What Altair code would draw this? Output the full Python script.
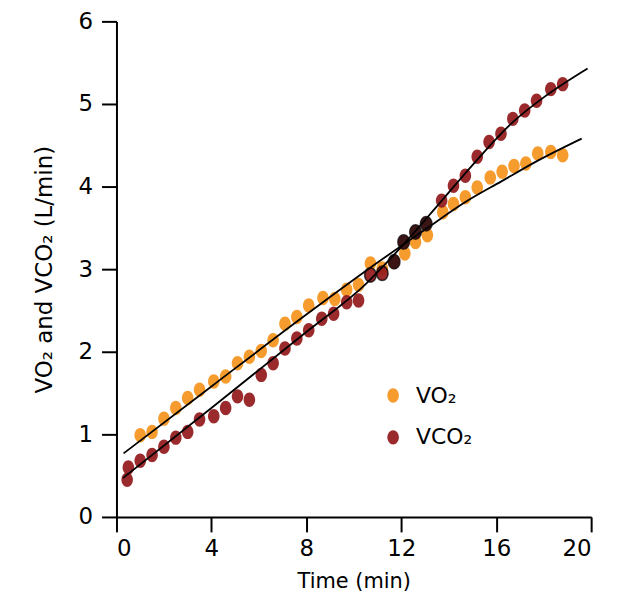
import altair as alt
import pandas as pd

# ---- data ----
series_names = ["VO₂", "VCO₂"]

vo2_time = [1.0, 1.5, 2.0, 2.5, 3.0, 3.5, 4.1, 4.6, 5.1, 5.6, 6.1, 6.6, 7.1, 7.6, 8.1,
            8.7, 9.2, 9.7, 10.2, 10.7, 11.2, 11.7, 12.15, 12.6, 13.1, 13.75, 14.2, 14.7,
            15.2, 15.75, 16.25, 16.75, 17.25, 17.75, 18.3, 18.8]
vo2_value = [0.99, 1.03, 1.19, 1.32, 1.44, 1.54, 1.64, 1.70, 1.86, 1.94, 2.01, 2.14, 2.34,
             2.42, 2.56, 2.65, 2.64, 2.75, 2.81, 3.07, 3.01, 3.09, 3.19, 3.33, 3.41, 3.69,
             3.79, 3.87, 3.99, 4.11, 4.18, 4.25, 4.28, 4.40, 4.42, 4.38]

vco2_time = [0.45, 0.5, 1.0, 1.5, 2.0, 2.5, 3.0, 3.5, 4.1, 4.6, 5.1, 5.6, 6.1, 6.6, 7.1,
             7.6, 8.1, 8.65, 9.15, 9.7, 10.2, 10.7, 11.2, 11.7, 12.1, 12.6, 13.05, 13.7,
             14.2, 14.7, 15.2, 15.7, 16.2, 16.7, 17.2, 17.7, 18.3, 18.8]
vco2_value = [0.45, 0.60, 0.68, 0.75, 0.85, 0.96, 1.03, 1.18, 1.22, 1.32, 1.46, 1.42, 1.72,
              1.86, 2.04, 2.16, 2.26, 2.40, 2.46, 2.60, 2.62, 2.93, 2.95, 3.09, 3.33, 3.45,
              3.55, 3.83, 4.01, 4.13, 4.36, 4.54, 4.64, 4.82, 4.92, 5.04, 5.18, 5.24]

vo2_fit_time = [0.3, 4, 8, 11, 13.25, 14.8, 16.2, 17.6, 19.6]
vo2_fit_value = [0.77, 1.58, 2.45, 3.08, 3.53, 3.83, 4.06, 4.29, 4.58]

vco2_fit_time = [0.27, 4, 8, 10.5, 12, 13.5, 15, 16.7, 18, 19.85]
vco2_fit_value = [0.47, 1.32, 2.24, 2.82, 3.27, 3.76, 4.26, 4.78, 5.08, 5.43]

x_ticks = [0, 4, 8, 12, 16, 20]
y_ticks = [0, 1, 2, 3, 4, 5, 6]

# ---- tables ----
points = pd.DataFrame({
    "time": vo2_time + vco2_time,
    "value": vo2_value + vco2_value,
    "series": [series_names[0]] * len(vo2_time) + [series_names[1]] * len(vco2_time),
})
fits = pd.DataFrame({
    "time": vo2_fit_time + vco2_fit_time,
    "value": vo2_fit_value + vco2_fit_value,
    "series": [series_names[0]] * len(vo2_fit_time) + [series_names[1]] * len(vco2_fit_time),
})

FONT = "DejaVu Sans"
ELLIPSE = "M0,-1A0.8,1,0,1,1,0,1A0.8,1,0,1,1,0,-1Z"
PSIZE = 210

x_enc = alt.X(
    "time:Q",
    scale=alt.Scale(domain=[0, 20], nice=False),
    axis=alt.Axis(values=x_ticks, format="d", title="Time (min)", labelPadding=6,
                  titlePadding=10, titleFontSize=21),
)
y_enc = alt.Y(
    "value:Q",
    scale=alt.Scale(domain=[0, 6], nice=False),
    axis=alt.Axis(values=y_ticks, format="d", title="VO₂ and VCO₂ (L/min)", labelPadding=9,
                  titlePadding=22, titleFontSize=23),
)

pts = alt.Chart(points).mark_point(
    filled=True, shape=ELLIPSE, size=PSIZE, opacity=0.93, strokeWidth=0
).encode(
    x=x_enc,
    y=y_enc,
    color=alt.Color(
        "series:N",
        scale=alt.Scale(domain=series_names, range=["#F5951F", "#921A1C"]),
        legend=alt.Legend(
            title=None, orient="none", legendX=267, legendY=365,
            symbolType=ELLIPSE, symbolSize=PSIZE, symbolStrokeWidth=0, symbolOpacity=0.93,
            labelFont=FONT, labelFontSize=22, labelColor="black",
            labelOffset=12, rowPadding=20,
        ),
    ),
)

sel = (alt.datum.series == series_names[1]) & (alt.datum.time >= 10.5) & (alt.datum.time <= 13.1)
outline = alt.Chart(points).transform_filter(sel).mark_point(
    filled=False, shape=ELLIPSE, size=PSIZE, color="black", strokeWidth=1.6
).encode(x="time:Q", y="value:Q")

dark = alt.Chart(points).transform_filter(
    sel & (alt.datum.time >= 11.5)
).mark_point(
    filled=True, shape=ELLIPSE, size=PSIZE, color="#2a1212", opacity=0.85, strokeWidth=0
).encode(x="time:Q", y="value:Q")

lines = alt.Chart(fits).mark_line(
    color="black", strokeWidth=1.8, interpolate="monotone"
).encode(x="time:Q", y="value:Q", detail="series:N")

chart = alt.layer(pts, outline, dark, lines).properties(
    width=477,
    height=498,
    autosize=alt.AutoSizeParams(type="none"),
    padding={"left": 109, "top": 12, "right": 30, "bottom": 80},
).configure_view(stroke=None).configure_axis(
    grid=False,
    domainColor="black", domainWidth=2,
    tickColor="black", tickWidth=2, tickSize=15,
    labelFont=FONT, labelFontSize=23, labelColor="black",
    titleFont=FONT, titleColor="black", titleFontWeight="normal",
)

chart.save("out.html", embed_options={"renderer": "svg", "actions": False})
